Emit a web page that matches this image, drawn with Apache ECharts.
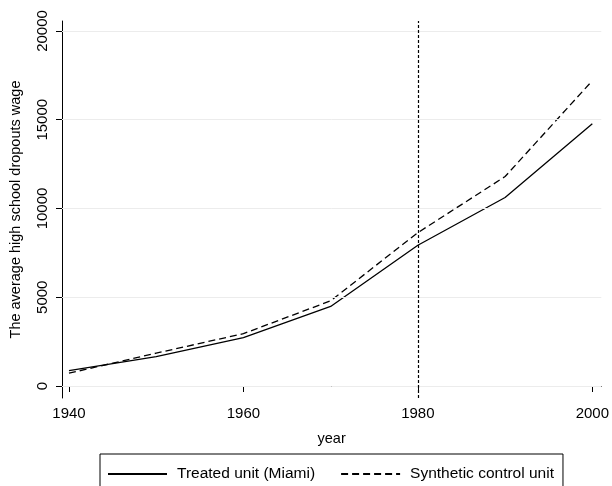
<!DOCTYPE html>
<html>
<head>
<meta charset="utf-8">
<script src="https://cdn.jsdelivr.net/npm/echarts@6/dist/echarts.min.js"></script>
<style>html,body{margin:0;padding:0;background:#fff}#c{width:612px;height:486px}</style>
</head>
<body>
<div id="c"></div>
<script>
var years = [1940, 1950, 1960, 1970, 1980, 1990, 2000];
var treated = [870, 1650, 2720, 4480, 7930, 10620, 14780];
var synthetic = [720, 1850, 2950, 4800, 8640, 11800, 17200];
var xTicks = [1940, 1960, 1980, 2000];
var yTicks = [0, 5000, 10000, 15000, 20000];
var treatmentYear = 1980;
var seriesNames = ['Treated unit (Miami)', 'Synthetic control unit'];

var FONT = 'Liberation Sans, Arial, sans-serif';
var chart = echarts.init(document.getElementById('c'), null, {renderer: 'canvas'});
function pairs(v) { return years.map(function (y, i) { return [y, v[i]]; }); }
function plain(v) { return String(v); }

chart.setOption({
  animation: false,
  backgroundColor: '#ffffff',
  grid: {left: 62, right: 9, top: 21, bottom: 88, containLabel: false},
  xAxis: {
    type: 'value', min: 1939.2, max: 2001.03,
    name: 'year', nameLocation: 'middle', nameGap: 33,
    nameTextStyle: {fontFamily: FONT, fontSize: 14.5, color: '#000'},
    axisLine: {show: true, lineStyle: {color: '#000', width: 1}},
    axisTick: {show: true, length: 6, lineStyle: {color: '#000'}, customValues: xTicks},
    axisLabel: {fontFamily: FONT, fontSize: 15, color: '#000', margin: 8, customValues: xTicks, formatter: plain},
    splitLine: {show: false}
  },
  yAxis: {
    type: 'value', min: -676, max: 20563,
    name: 'The average high school dropouts wage', nameLocation: 'middle', nameGap: 39,
    nameTextStyle: {fontFamily: FONT, fontSize: 14.5, color: '#000'},
    axisLine: {show: true, lineStyle: {color: '#000', width: 1}},
    axisTick: {show: true, length: 6, lineStyle: {color: '#000'}, customValues: yTicks},
    axisLabel: {fontFamily: FONT, fontSize: 15, color: '#000', margin: 12, rotate: 90, customValues: yTicks, formatter: plain},
    splitLine: {show: false}
  },
  legend: {
    left: 100, top: 454, width: 463,
    orient: 'horizontal',
    borderColor: '#000', borderWidth: 1, borderRadius: 0,
    padding: [12, 9, 20, 7],
    itemWidth: 59, itemHeight: 14, itemGap: 25,
    itemStyle: {opacity: 0, borderWidth: 0},
    textStyle: {fontFamily: FONT, fontSize: 15.5, color: '#000', padding: [0, 0, 0, 5]},
    data: seriesNames
  },
  series: [
    {
      name: seriesNames[0], type: 'line', data: pairs(treated), symbol: 'none',
      lineStyle: {color: '#000', width: 1.3, type: 'solid'},
      itemStyle: {color: '#000'},
      markLine: {
        silent: true, symbol: 'none', label: {show: false}, animation: false,
        lineStyle: {color: '#ececec', width: 1, type: 'solid'},
        data: yTicks.map(function (v) { return {yAxis: v}; })
      },
      z: 3
    },
    {
      name: seriesNames[1], type: 'line', data: pairs(synthetic), symbol: 'none',
      lineStyle: {color: '#000', width: 1.3, type: [7, 4]},
      itemStyle: {color: '#000'},
      markLine: {
        silent: true, symbol: 'none', label: {show: false}, animation: false,
        lineStyle: {color: '#000', width: 1.2, type: [3, 2]},
        data: [{xAxis: treatmentYear}]
      },
      z: 3
    }
  ]
});
</script>
</body>
</html>
